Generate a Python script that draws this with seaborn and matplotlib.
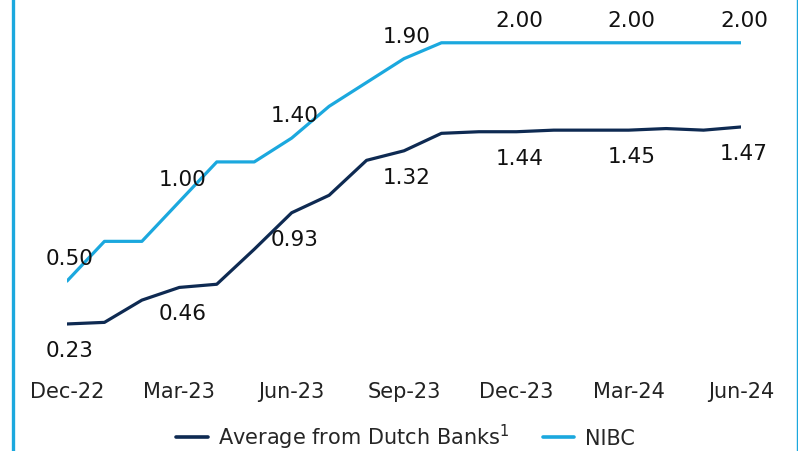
import seaborn as sns
import matplotlib.pyplot as plt
import pandas as pd
from matplotlib.lines import Line2D

# dados mensais, Dec-22 .. Jun-24
months = ['Dec-22', 'Jan-23', 'Feb-23', 'Mar-23', 'Apr-23', 'May-23', 'Jun-23',
          'Jul-23', 'Aug-23', 'Sep-23', 'Oct-23', 'Nov-23', 'Dec-23', 'Jan-24',
          'Feb-24', 'Mar-24', 'Apr-24', 'May-24', 'Jun-24']
dutch = [0.23, 0.24, 0.38, 0.46, 0.48, 0.70, 0.93, 1.04, 1.26, 1.32,
         1.43, 1.44, 1.44, 1.45, 1.45, 1.45, 1.46, 1.45, 1.47]
nibc = [0.50, 0.75, 0.75, 1.00, 1.25, 1.25, 1.40, 1.60, 1.75, 1.90,
        2.00, 2.00, 2.00, 2.00, 2.00, 2.00, 2.00, 2.00, 2.00]
tick_labels = ['Dec-22', 'Mar-23', 'Jun-23', 'Sep-23', 'Dec-23', 'Mar-24', 'Jun-24']
label_idx = [0, 3, 6, 9, 12, 15, 18]

name_dutch = 'Average from Dutch Banks$^1$'
name_nibc = 'NIBC'
cores = {name_dutch: '#0E2A52', name_nibc: '#1BA8DE'}

df = pd.DataFrame({
    'x': list(range(len(months))) * 2,
    'valor': dutch + nibc,
    'serie': [name_dutch] * len(months) + [name_nibc] * len(months),
})

sns.set_theme(style='white')
plt.rcParams['font.family'] = ['DejaVu Sans']

fig = plt.figure(figsize=(7.98, 4.52), dpi=100)
ax = fig.add_axes([67 / 798, 1 - 361.5 / 452, 674 / 798, 349.5 / 452])

sns.lineplot(data=df, x='x', y='valor', hue='serie', palette=cores,
             linewidth=2.3, ax=ax, legend=False)

ax.set_xlim(0, 18)
ax.set_ylim(0, 2.2)
ax.set_xticks(label_idx)
ax.set_xticklabels(tick_labels, fontsize=15, color='#222222')
ax.set_yticks([])
ax.tick_params(axis='x', length=0, pad=15)
ax.set_xlabel('')
ax.set_ylabel('')
for s in ax.spines.values():
    s.set_visible(False)

# rótulos dos valores
for i in label_idx:
    ax.annotate(f'{nibc[i]:.2f}', (i, nibc[i]), xytext=(3, 23), textcoords='offset pixels',
                ha='center', va='center', fontsize=15.5, color='#111111', annotation_clip=False)
    ax.annotate(f'{dutch[i]:.2f}', (i, dutch[i]), xytext=(3, -26), textcoords='offset pixels',
                ha='center', va='center', fontsize=15.5, color='#111111', annotation_clip=False)

# legenda embaixo
handles = [Line2D([], [], color=cores[name_dutch], lw=2.6),
           Line2D([], [], color=cores[name_nibc], lw=2.6)]
fig.legend(handles, [name_dutch, name_nibc], loc='center', bbox_to_anchor=(0.508, 0.033),
           ncol=2, frameon=False, fontsize=15, handlelength=1.5,
           handletextpad=0.5, columnspacing=1.6)

# bordas laterais
fig.add_artist(Line2D([13 / 798, 13 / 798], [0, 1], color='#1BA8DE', lw=2.4))
fig.add_artist(Line2D([796.5 / 798, 796.5 / 798], [0, 1], color='#1BA8DE', lw=1.0))

plt.savefig('out.png', dpi=100)
